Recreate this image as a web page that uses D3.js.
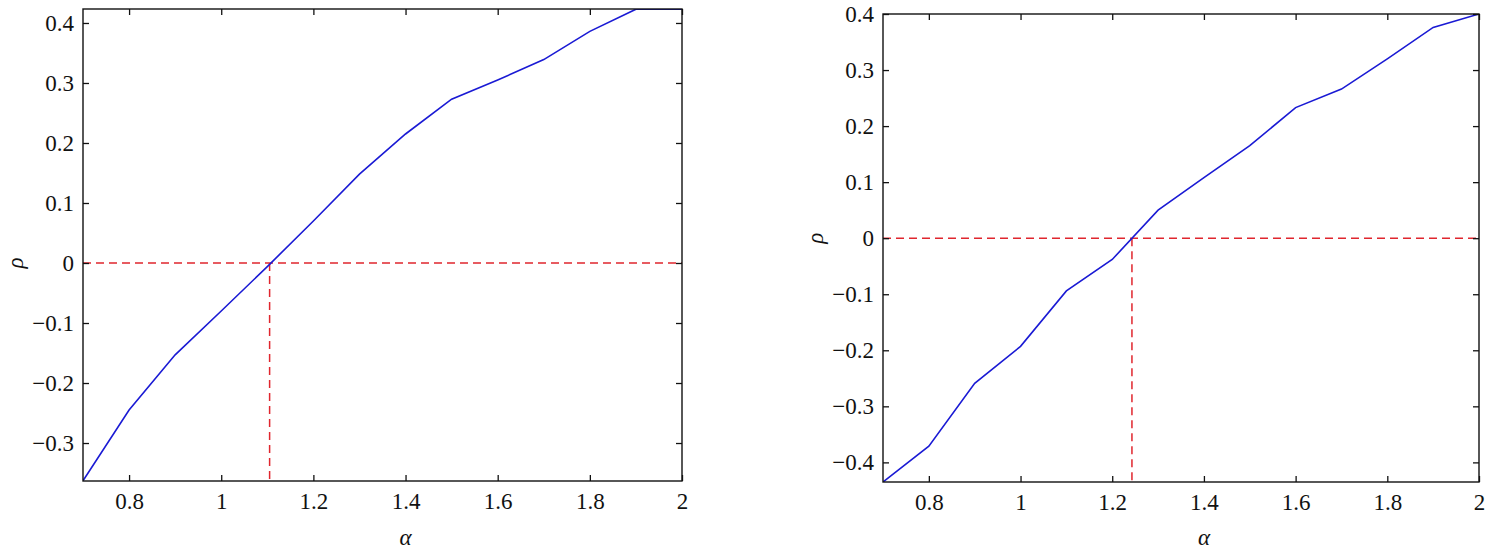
<!DOCTYPE html>
<html>
<head>
<meta charset="utf-8">
<script src="https://cdn.jsdelivr.net/npm/d3@7"></script>
<style>
  html, body { margin: 0; padding: 0; background: #fff; }
</style>
</head>
<body>
<svg id="chart" width="1496" height="554"></svg>
<script>
// ---- data ----
const alpha = [0.7, 0.8, 0.9, 1.0, 1.1, 1.2, 1.3, 1.4, 1.5, 1.6, 1.7, 1.8, 1.9, 2.0];
const rhoLeft  = [-0.363, -0.245, -0.153, -0.080, -0.006, 0.070, 0.148, 0.215, 0.273, 0.305, 0.339, 0.386, 0.423, 0.423];
const rhoRight = [-0.435, -0.371, -0.259, -0.193, -0.094, -0.038, 0.050, 0.108, 0.165, 0.233, 0.266, 0.320, 0.376, 0.400];
const crossLeft = 1.105;
const crossRight = 1.243;
const xTicks = [0.8, 1, 1.2, 1.4, 1.6, 1.8, 2];
const yTicksLeft = [-0.3, -0.2, -0.1, 0, 0.1, 0.2, 0.3, 0.4];
const yTicksRight = [-0.4, -0.3, -0.2, -0.1, 0, 0.1, 0.2, 0.3, 0.4];
const xDomain = [0.7, 2];
const yDomainLeft = [-0.3633, 0.4233];
const yDomainRight = [-0.435, 0.4];

const FONT = '"Liberation Serif", "Times New Roman", serif';
const svg = d3.select("#chart");
const fmt = d3.format("~g");

function panel(id, box, ys, yDomain, yTicks, cross) {
  const x = d3.scaleLinear().domain(xDomain).range([box.l, box.r]);
  const y = d3.scaleLinear().domain(yDomain).range([box.b, box.t]);
  const g = svg.append("g");

  g.append("clipPath").attr("id", "clip" + id)
    .append("rect").attr("x", box.l).attr("y", box.t)
    .attr("width", box.r - box.l).attr("height", box.b - box.t);

  const plot = g.append("g").attr("clip-path", `url(#clip${id})`);

  // red dashed reference lines
  plot.append("line")
    .attr("x1", x(xDomain[0])).attr("x2", x(xDomain[1]))
    .attr("y1", y(0)).attr("y2", y(0))
    .attr("stroke", "#e0262e").attr("stroke-width", 1.5).attr("stroke-dasharray", "8,5");
  plot.append("line")
    .attr("x1", x(cross)).attr("x2", x(cross))
    .attr("y1", y(0)).attr("y2", y(yDomain[0]))
    .attr("stroke", "#e0262e").attr("stroke-width", 1.5).attr("stroke-dasharray", "8,5");

  // blue curve
  plot.append("path")
    .datum(alpha.map((a, i) => [a, ys[i]]))
    .attr("fill", "none").attr("stroke", "#1a1ad4").attr("stroke-width", 1.6)
    .attr("d", d3.line().x(d => x(d[0])).y(d => y(d[1])));

  // axes (ticks inward)
  const tk = 6;
  const axB = g.append("g").attr("transform", `translate(0,${box.b})`)
    .call(d3.axisBottom(x).tickValues(xTicks).tickFormat(fmt).tickSizeInner(-tk).tickSizeOuter(0).tickPadding(12));
  const axT = g.append("g").attr("transform", `translate(0,${box.t})`)
    .call(d3.axisTop(x).tickValues(xTicks).tickFormat("").tickSizeInner(-tk).tickSizeOuter(0));
  const axL = g.append("g").attr("transform", `translate(${box.l},0)`)
    .call(d3.axisLeft(y).tickValues(yTicks).tickFormat(fmt).tickSizeInner(-tk).tickSizeOuter(0).tickPadding(9));
  const axR = g.append("g").attr("transform", `translate(${box.r},0)`)
    .call(d3.axisRight(y).tickValues(yTicks).tickFormat("").tickSizeInner(-tk).tickSizeOuter(0));

  [axB, axT, axL, axR].forEach(a => {
    a.attr("font-family", null).attr("font-size", null);
    a.select(".domain").remove();
    a.selectAll(".tick line").attr("stroke", "#111").attr("stroke-width", 1.3);
    a.selectAll("text").style("font-family", FONT).style("font-size", "23px").attr("fill", "#111");
  });

  // frame
  g.append("rect").attr("x", box.l).attr("y", box.t)
    .attr("width", box.r - box.l).attr("height", box.b - box.t)
    .attr("fill", "none").attr("stroke", "#111").attr("stroke-width", 1.4);

  // axis labels
  g.append("text").attr("x", (box.l + box.r) / 2 + 23).attr("y", 545)
    .attr("text-anchor", "middle").style("font-family", FONT).style("font-size", "23px").style("font-style", "italic")
    .attr("fill", "#111").text("α");
  g.append("text")
    .attr("transform", `translate(${box.l - 60},${y(0)}) rotate(-90)`)
    .attr("text-anchor", "middle").style("font-family", FONT).style("font-size", "23px").style("font-style", "italic")
    .attr("fill", "#111").text("ρ");
}

panel("L", {l: 83, r: 682, t: 9, b: 481}, rhoLeft, yDomainLeft, yTicksLeft, crossLeft);
panel("R", {l: 883, r: 1479, t: 14, b: 482}, rhoRight, yDomainRight, yTicksRight, crossRight);
</script>
</body>
</html>
